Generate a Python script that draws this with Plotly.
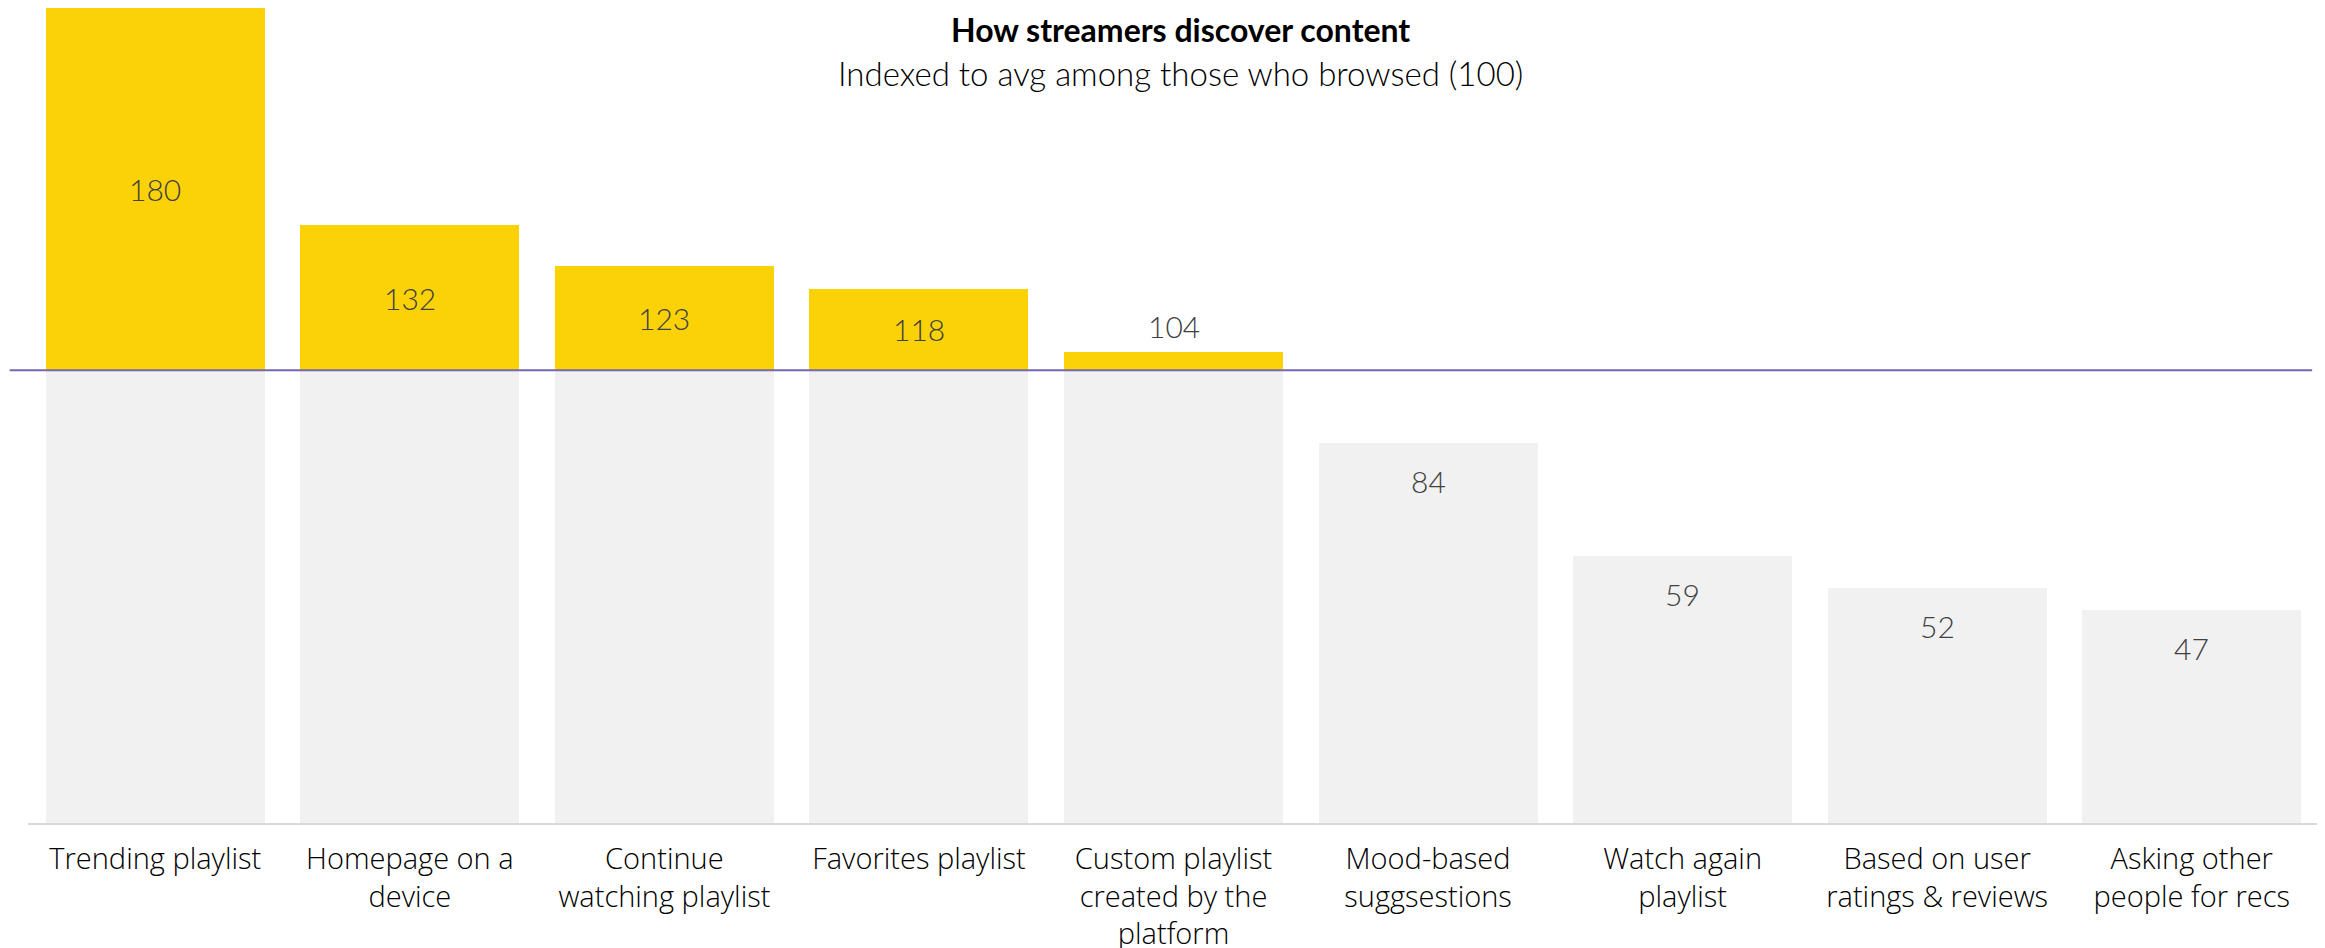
import plotly.graph_objects as go

categories = [
    "Trending playlist",
    "Homepage on a<br>device",
    "Continue<br>watching playlist",
    "Favorites playlist",
    "Custom playlist<br>created by the<br>platform",
    "Mood-based<br>suggsestions",
    "Watch again<br>playlist",
    "Based on user<br>ratings & reviews",
    "Asking other<br>people for recs",
]
values = [180, 132, 123, 118, 104, 84, 59, 52, 47]
baseline = 100

title_text = "<b>How streamers discover content</b>"
subtitle_text = "Indexed to avg among those who browsed (100)"

GRAY = "#F1F1F1"
YELLOW = "#FAD207"
LABEL_FONT = "Lato, 'Open Sans', sans-serif"
TICK_FONT = "'Open Sans', Lato, sans-serif"

x = list(range(len(categories)))
below = [min(v, baseline) for v in values]
above = [max(v - baseline, 0) for v in values]

fig = go.Figure()
fig.add_trace(go.Bar(x=x, y=below, marker=dict(color=GRAY, line=dict(width=0)),
                     hoverinfo="skip", showlegend=False))
fig.add_trace(go.Bar(x=x, y=above, marker=dict(color=YELLOW, line=dict(width=0)),
                     hoverinfo="skip", showlegend=False))

annotations = []
for i, v in enumerate(values):
    if v >= baseline and v - baseline > 10:
        ay, shift = (v + baseline) / 2, 0
    elif v >= baseline:
        ay, shift = v, 26
    else:
        ay, shift = v, -38
    annotations.append(dict(x=i, y=ay, xref="x", yref="y", text=str(v), showarrow=False,
                            yshift=shift, yanchor="middle",
                            font=dict(family=LABEL_FONT, size=30, color="#404040", weight=300)))

annotations.append(dict(x=0.503, y=0.9735, xref="paper", yref="paper", text=title_text,
                        showarrow=False, yanchor="middle",
                        font=dict(family=LABEL_FONT, size=32, color="#000000")))
annotations.append(dict(x=0.503, y=0.9205, xref="paper", yref="paper", text=subtitle_text,
                        showarrow=False, yanchor="middle",
                        font=dict(family=LABEL_FONT, size=33, color="#000000", weight=300)))

fig.update_layout(
    width=2325, height=948,
    margin=dict(l=20, r=14, t=0, b=133),
    paper_bgcolor="white", plot_bgcolor="white",
    barmode="stack", bargap=0.14,
    annotations=annotations,
    shapes=[dict(type="line", xref="paper", yref="y", x0=-0.008, x1=0.997,
                 y0=baseline, y1=baseline, line=dict(color="#7467B0", width=2), layer="above")],
    xaxis=dict(tickmode="array", tickvals=x, ticktext=categories, showgrid=False,
               zeroline=False, showline=True, linecolor="#D9D9D9", linewidth=2,
               ticks="", ticklabelstandoff=9,
               tickfont=dict(family=TICK_FONT, size=29, color="#000000", weight=300),
               range=[-0.5, len(categories) - 0.5], fixedrange=True),
    yaxis=dict(range=[0, 180], visible=False, fixedrange=True),
)

fig.write_html("out.html")
